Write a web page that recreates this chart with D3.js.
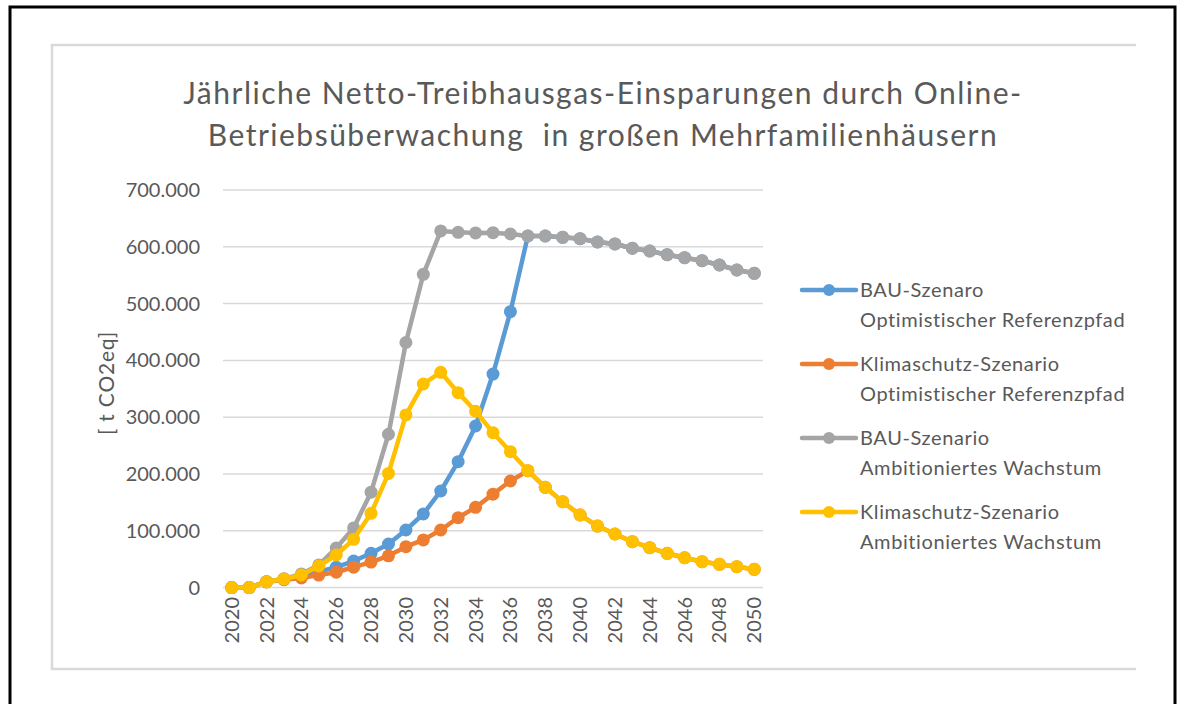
<!DOCTYPE html>
<html>
<head>
<meta charset="utf-8">
<script src="https://cdn.jsdelivr.net/npm/d3@7/dist/d3.min.js"></script>
<style>
  body { margin: 0; background: #fff; }
  text { font-family: Lato, "Open Sans", sans-serif; fill: #595959; }
</style>
</head>
<body>
<svg id="svg" width="1184" height="704"></svg>
<script>
// values (t CO2eq per year)
var years = d3.range(2020, 2051);

var bauOptimistic = [0, 0, 10400, 15100, 22000, 28000, 36000, 46800, 60300, 76800,
  101400, 129600, 170100, 221700, 284500, 376000, 485800, 619000, 619000, 616700,
  614300, 608500, 605000, 597400, 592600, 586100, 580800, 575500, 568000, 559200, 553300];

var klimaOptimistic = [0, 0, 10000, 14000, 17000, 22000, 27000, 36000, 45000, 56000,
  72000, 84000, 101400, 123100, 141300, 164500, 187700, 205800, 176600, 151200,
  127800, 108400, 94400, 80800, 70300, 60400, 52600, 45600, 41000, 36800, 32200];

var bauAmbitious = [0, 0, 10400, 15500, 24000, 40000, 69700, 105000, 168000, 270000,
  431500, 551500, 628000, 625500, 624500, 624800, 622500, 619000, 619000, 616700,
  614300, 608500, 605000, 597400, 592600, 586100, 580800, 575500, 568000, 559200, 553300];

var klimaAmbitious = [0, 0, 10400, 15100, 22200, 38000, 57400, 85000, 130800, 201000,
  304000, 358500, 379000, 343200, 310500, 272700, 239300, 205800, 176600, 151200,
  127800, 108400, 94400, 80800, 70300, 60400, 52600, 45600, 41000, 36800, 32200];

var seriesNames = [
  ["BAU-Szenaro", "Optimistischer Referenzpfad"],
  ["Klimaschutz-Szenario", "Optimistischer Referenzpfad"],
  ["BAU-Szenario", "Ambitioniertes Wachstum"],
  ["Klimaschutz-Szenario", "Ambitioniertes Wachstum"]
];
var seriesColors = ["#5b9bd5", "#ed7d31", "#a5a5a5", "#ffc000"];
var seriesValues = [bauOptimistic, klimaOptimistic, bauAmbitious, klimaAmbitious];

var yTicks = d3.range(0, 700001, 100000);
var xTickYears = years.filter(function(d){ return d % 2 == 0; });

var titleLines = ["Jährliche Netto-Treibhausgas-Einsparungen durch Online-",
  "Betriebsüberwachung  in großen Mehrfamilienhäusern"];

var svg = d3.select("#svg");

// frames
svg.append("rect")
  .attr("x", 10).attr("y", 7).attr("width", 1165).attr("height", 760)
  .attr("fill", "none").attr("stroke", "#000").attr("stroke-width", 3);

var frame = svg.append("g").attr("stroke", "#d9d9d9").attr("stroke-width", 2.5).attr("fill", "none");
frame.append("path").attr("d", "M1136,45H52V669H1136");

// title (double space kept as in the original)
svg.append("g").selectAll("text")
  .data(titleLines)
  .enter().append("text")
  .attr("x", 603)
  .attr("y", function(d, i){ return 104 + i * 42; })
  .attr("text-anchor", "middle")
  .style("font-size", "30px")
  .style("letter-spacing", "1.5px")
  .style("white-space", "pre")
  .text(function(d){ return d; });

// scales
var x = d3.scaleBand().domain(years).range([223, 763]).paddingInner(0).paddingOuter(0);
var y = d3.scaleLinear().domain([0, 700000]).range([587.6, 190]);
var cx = function(yr){ return x(yr) + x.bandwidth() / 2; };

var de = d3.formatLocale({decimal: ",", thousands: ".", grouping: [3], currency: ["", "€"]});
var fmt = de.format(",");

// gridlines
svg.append("g").selectAll("line")
  .data(yTicks)
  .enter().append("line")
  .attr("x1", 223).attr("x2", 763)
  .attr("y1", function(d){ return y(d); })
  .attr("y2", function(d){ return y(d); })
  .attr("stroke", "#d9d9d9").attr("stroke-width", 1.5);

// y axis labels
svg.append("g").selectAll("text")
  .data(yTicks)
  .enter().append("text")
  .attr("x", 200)
  .attr("y", function(d){ return y(d); })
  .attr("dy", "0.35em")
  .attr("text-anchor", "end")
  .style("font-size", "20px")
  .text(function(d){ return fmt(d); });

svg.append("text")
  .attr("transform", "translate(107,383) rotate(-90)")
  .attr("dy", "0.35em")
  .attr("text-anchor", "middle")
  .style("font-size", "21px")
  .style("letter-spacing", "0.8px")
  .text("[ t CO2eq]");

// x axis labels
svg.append("g").selectAll("text")
  .data(xTickYears)
  .enter().append("text")
  .attr("transform", function(d){ return "translate(" + cx(d) + ",597) rotate(-90)"; })
  .attr("dy", "0.35em")
  .attr("text-anchor", "end")
  .style("font-size", "20px")
  .text(function(d){ return d; });

// series
var line = d3.line()
  .x(function(d, i){ return cx(years[i]); })
  .y(function(d){ return y(d); });

seriesValues.forEach(function(vals, s){
  var g = svg.append("g");
  g.append("path")
    .attr("d", line(vals))
    .attr("fill", "none")
    .attr("stroke", seriesColors[s])
    .attr("stroke-width", 4.5)
    .attr("stroke-linejoin", "round");
  g.selectAll("circle")
    .data(vals)
    .enter().append("circle")
    .attr("cx", function(d, i){ return cx(years[i]); })
    .attr("cy", function(d){ return y(d); })
    .attr("r", 6.5)
    .attr("fill", seriesColors[s]);
});

// legend
var legend = svg.append("g").selectAll("g")
  .data(seriesNames)
  .enter().append("g")
  .attr("transform", function(d, i){ return "translate(0," + (290 + i * 74) + ")"; });

legend.append("line")
  .attr("x1", 802).attr("x2", 856)
  .attr("stroke", function(d, i){ return seriesColors[i]; })
  .attr("stroke-width", 4.5).attr("stroke-linecap", "round");
legend.append("circle")
  .attr("cx", 829).attr("r", 6)
  .attr("fill", function(d, i){ return seriesColors[i]; });
legend.append("text")
  .attr("x", 860).attr("dy", "0.35em")
  .style("font-size", "20px")
  .style("letter-spacing", "0.6px")
  .text(function(d){ return d[0]; });
legend.append("text")
  .attr("x", 860).attr("y", 29.5).attr("dy", "0.35em")
  .style("font-size", "20px")
  .style("letter-spacing", "0.6px")
  .text(function(d){ return d[1]; });
</script>
</body>
</html>
